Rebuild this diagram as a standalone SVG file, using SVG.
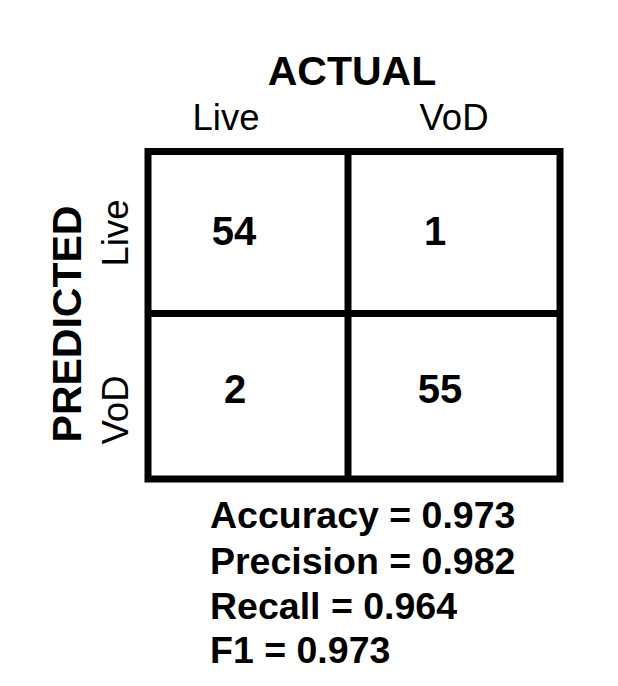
<svg xmlns="http://www.w3.org/2000/svg" width="618" height="686" viewBox="0 0 618 686">
<style>
.t{font-family:"Liberation Sans",Arial,sans-serif;fill:#000}
.b{font-weight:bold}
.g{fill:none;stroke:#000;stroke-width:7}
</style>
<rect width="618" height="686" fill="#fff"/>
<g id="headers">
<text class="t b" x="352" y="85" font-size="41" text-anchor="middle">ACTUAL</text>
<text class="t" x="226" y="130" font-size="36.5" text-anchor="middle">Live</text>
<text class="t" x="454" y="130" font-size="36.5" text-anchor="middle">VoD</text>
<text class="t b" font-size="41" text-anchor="middle" transform="translate(81,324) rotate(-90)">PREDICTED</text>
<text class="t" font-size="36.5" text-anchor="middle" transform="translate(128,233) rotate(-90)">Live</text>
<text class="t" font-size="36.5" text-anchor="middle" transform="translate(128,410) rotate(-90)">VoD</text>
</g>
<g id="grid">
<rect class="g" x="148" y="151.5" width="412" height="327.5"/>
<line class="g" x1="348" y1="151.5" x2="348" y2="479"/>
<line class="g" x1="148" y1="313.5" x2="560" y2="313.5"/>
</g>
<g id="cell-live-live"><text class="t b" x="234" y="245" font-size="40" text-anchor="middle">54</text></g>
<g id="cell-live-vod"><text class="t b" x="435" y="245" font-size="40" text-anchor="middle">1</text></g>
<g id="cell-vod-live"><text class="t b" x="235" y="403" font-size="40" text-anchor="middle">2</text></g>
<g id="cell-vod-vod"><text class="t b" x="440" y="403" font-size="40" text-anchor="middle">55</text></g>
<g id="metrics">
<text class="t b" x="210" y="528" font-size="37.5">Accuracy = 0.973</text>
<text class="t b" x="210" y="573.5" font-size="37.5">Precision = 0.982</text>
<text class="t b" x="210" y="618.5" font-size="37.5">Recall = 0.964</text>
<text class="t b" x="210" y="663" font-size="37.5">F1 = 0.973</text>
</g>
</svg>
